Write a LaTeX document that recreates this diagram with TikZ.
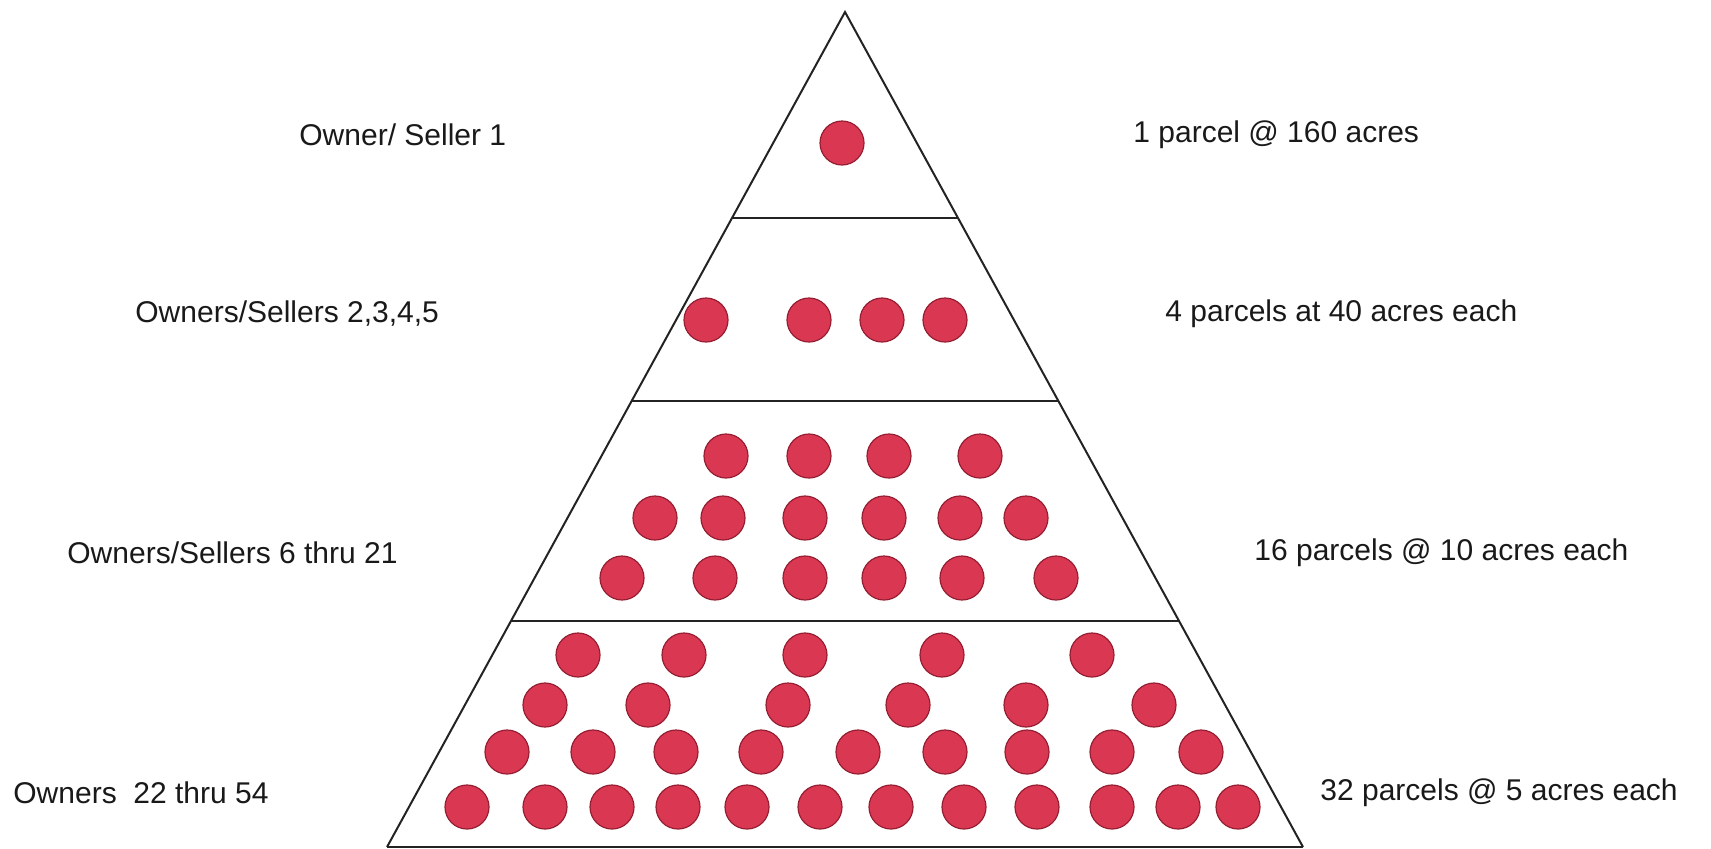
\documentclass[tikz,border=0pt]{standalone}
\usepackage{fontspec}
\setmainfont{Liberation Sans}
\usetikzlibrary{calc}
\definecolor{parcelfill}{RGB}{218,56,82}
\definecolor{parceledge}{RGB}{150,30,50}
\definecolor{inkline}{RGB}{35,35,35}
\tikzset{
  parcel/.style={circle,fill=parcelfill,draw=parceledge,line width=0.6pt,minimum size=22pt,inner sep=0pt},
  lbl/.style={anchor=west,inner sep=0pt,font=\fontsize{15}{18}\selectfont,text=black!90},
  frame/.style={draw=inkline,line width=1pt}
}
\begin{document}
\begin{tikzpicture}[x=0.5pt,y=-0.5pt]
\useasboundingbox (0,0) rectangle (1711,848);
% triangle corners
\coordinate (apex) at (845,12);
\coordinate (bl) at (387,847);
\coordinate (br) at (1303,847);
\coordinate (d1l) at ($(apex)!0.2467!(bl)$);
\coordinate (d1r) at ($(apex)!0.2467!(br)$);
\coordinate (d2l) at ($(apex)!0.4659!(bl)$);
\coordinate (d2r) at ($(apex)!0.4659!(br)$);
\coordinate (d3l) at ($(apex)!0.7293!(bl)$);
\coordinate (d3r) at ($(apex)!0.7293!(br)$);
\draw[frame] (bl) -- (apex) -- (br);
\draw[frame] (bl) -- (br);
\draw[frame] (d1l) -- (d1r);
\draw[frame] (d2l) -- (d2r);
\draw[frame] (d3l) -- (d3r);
% section 1
\node[parcel] (p1) at (842,143) {};
% section 2
\foreach \x [count=\i] in {706,809,882,945} \node[parcel] (q\i) at (\x,320) {};
% section 3
\foreach \x [count=\i] in {726,809,889,980} \node[parcel] (ra\i) at (\x,456) {};
\foreach \x [count=\i] in {655,723,805,884,960,1026} \node[parcel] (rb\i) at (\x,518) {};
\foreach \x [count=\i] in {622,715,805,884,962,1056} \node[parcel] (rc\i) at (\x,578) {};
% section 4
\foreach \x [count=\i] in {578,684,805,942,1092} \node[parcel] (sa\i) at (\x,655) {};
\foreach \x [count=\i] in {545,648,788,908,1026,1154} \node[parcel] (sb\i) at (\x,705) {};
\foreach \x [count=\i] in {507,593,676,761,858,945,1027,1112,1201} \node[parcel] (sc\i) at (\x,752) {};
\foreach \x [count=\i] in {467,545,612,678,747,820,891,964,1037,1112,1178,1238} \node[parcel] (sd\i) at (\x,807) {};
% labels left
\node[lbl] (l1) at (299,135) {Owner/ Seller 1};
\node[lbl] (l2) at (135,314) {Owners/Sellers 2,3,4,5};
\node[lbl] (l3) at (67,553) {Owners/Sellers 6 thru 21};
\node[lbl] (l4) at (13,793) {Owners\ \ 22 thru 54};
% labels right
\node[lbl] (r1) at (1133,135) {1 parcel @ 160 acres};
\node[lbl] (r2) at (1165,314) {4 parcels at 40 acres each};
\node[lbl] (r3) at (1254,553) {16 parcels @ 10 acres each};
\node[lbl] (r4) at (1320,793) {32 parcels @ 5 acres each};
\end{tikzpicture}
\end{document}
